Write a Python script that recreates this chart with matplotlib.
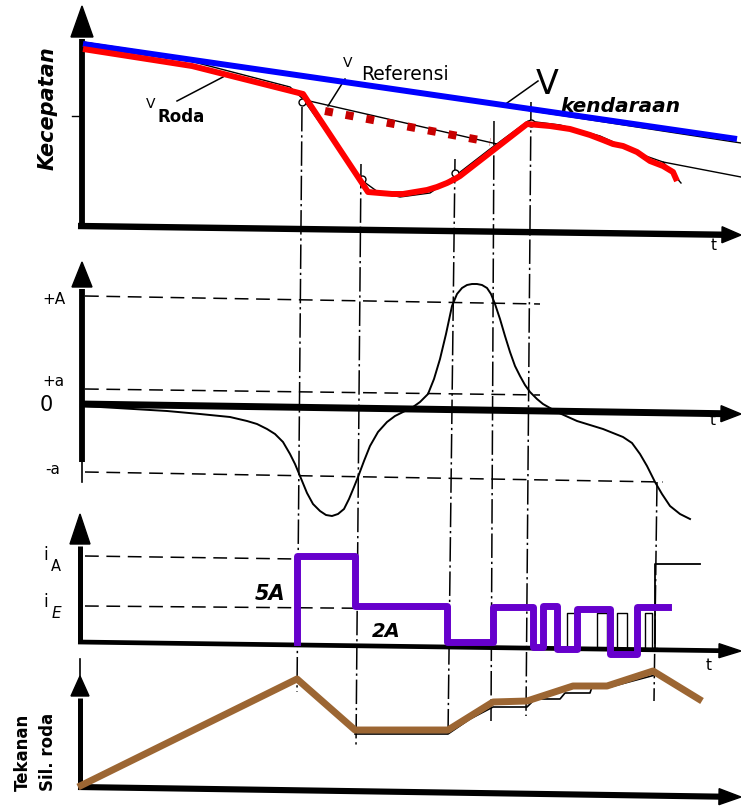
import numpy as np
import matplotlib
matplotlib.use('Agg')
import matplotlib.pyplot as plt
from matplotlib.patches import Polygon

# ---------------- data (t = time units, t=0 at the vertical axes) ----------------
# Panel 1 : Kecepatan (speed)
t_kendaraan = [1, 655]
v_kendaraan = [183, 88]
t_kend_ink = [1, 659]
v_kend_ink = [185, 84]
t_roda = [1, 110, 221, 286, 298, 310, 321, 333, 345, 355, 365, 373, 378,
          445, 468, 488, 508, 521, 531, 541, 555, 568, 581, 591, 595]
v_roda = [178, 161, 133, 35, 34, 33, 33, 35, 37, 40, 44, 48, 51,
          103, 101, 98, 92, 87, 83, 81, 75, 66, 61, 55, 46]
t_roda_ink = [1, 108, 208, 221, 253, 278, 296, 318, 348, 373, 408, 446, 478, 518, 558, 581, 599]
v_roda_ink = [185, 166, 140, 128, 83, 48, 35, 30, 34, 51, 78, 106, 102, 91, 73, 65, 44]
t_tail_ink = [581, 659]
v_tail_ink = [65, 50]
t_ref = [243, 408]
v_ref = [116, 85]
t_ref_ink = [223, 415]
v_ref_ink = [127, 83]
t_marks = [220, 280, 373, 449]
v_marks = [125, 48, 54, 104]

# Panel 2 : deceleration / acceleration of the wheel
t_acc = [1, 85, 118, 148, 165, 175, 185, 193, 201, 208, 213, 218, 225, 231, 238, 244, 250, 256, 262,
         267, 272, 276, 282, 288, 296, 305, 313, 321, 331, 338, 346, 352, 358, 364, 370, 375, 380,
         385, 390, 395, 400, 405, 409, 413, 418, 423, 428, 433, 438, 443, 448, 455, 461, 475, 495,
         521, 541, 550, 558, 565, 573, 580, 588, 598, 608]
a_acc = [-1, -6, -9, -12, -16, -19, -24, -29, -37, -49, -59, -71, -88, -99, -106, -110, -111, -109,
         -104, -94, -82, -72, -56, -41, -27, -17, -11, -7, -2, 3, 11, 26, 46, 71, 99, 111, 117, 120,
         121, 121, 120, 117, 111, 101, 86, 69, 53, 39, 29, 20, 13, 6, 1, -7, -16, -24, -32, -38,
         -49, -61, -77, -89, -101, -109, -114]

# Panel 3 : valve current
t_valve = [215, 215, 273, 365, 411, 451, 461, 475, 495, 528, 555, 586]
i_valve = [0, 86, 36, 0, 35, -5, 36, -7, 33, -12, 35, 35]
t_valve_ink = [481, 485, 495, 515, 525, 535, 545, 563, 570, 575]
i_valve_ink = [-6, 29, -6, 29, -6, 29, -6, 29, -6, -6]
t_step_ink = [573, 573, 618]
i_step_ink = [-9, 78, 78]

# Panel 4 : Tekanan silinder roda (brake pressure)
t_press = [-4, 215, 273, 366, 411, 445, 491, 525, 571, 620]
p_press = [0, 108, 57, 57, 85, 86, 101, 101, 116, 86]
t_press_ink = [273, 366, 388, 411, 445, 453, 478, 483, 508, 510, 528, 558, 573]
p_press_ink = [53, 53, 68, 80, 80, 88, 88, 94, 94, 100, 100, 108, 112]

# ---------------- figure ----------------
W, H = 741, 812
fig = plt.figure(figsize=(W / 100, H / 100), dpi=100)
fig.patch.set_facecolor('white')

# overlay in pixel coordinates for the hand-drawn frame (axes, guides, labels)
ov = fig.add_axes([0, 0, 1, 1])
ov.set_xlim(0, W)
ov.set_ylim(H, 0)
ov.axis('off')

K = 'black'

def head(ax, tip, base, hw):
    tx, ty = tip
    bx, by = base
    dx, dy = tx - bx, ty - by
    L = np.hypot(dx, dy)
    nx, ny = -dy / L, dx / L
    ax.add_patch(Polygon([[tx, ty], [bx + nx * hw, by + ny * hw], [bx - nx * hw, by - ny * hw]],
                         closed=True, color=K, zorder=5))

def yaxis(x, y0, ytip, ybase, lw=4.0, hw=11):
    ov.plot([x, x], [y0, ybase + 2], color=K, lw=lw, solid_capstyle='butt', zorder=5)
    head(ov, (x, ytip), (x, ybase), hw)

def xaxis(x0, y0, x1, y1, lw=4.0, hl=20, hw=8):
    frac = (x1 - x0 - hl) / (x1 - x0)
    xb = x0 + (x1 - x0) * frac
    yb = y0 + (y1 - y0) * frac
    ov.plot([x0, xb + 2], [y0, yb], color=K, lw=lw, solid_capstyle='butt', zorder=5)
    head(ov, (x1, y1), (xb, yb), hw)

# panel 1 frame
yaxis(82, 229, 7, 38, lw=4.2, hw=11)
xaxis(78, 227, 741, 236, lw=4.6, hl=19, hw=8)
ov.plot([72, 80], [117, 117], color=K, lw=1.0)
# panel 2 frame
yaxis(82, 463, 263, 288, lw=4.2, hw=10)
ov.plot([82, 82], [463, 483], color=K, lw=1.2)
xaxis(80, 405, 741, 415, lw=5.0, hl=20, hw=8)
# panel 3 frame
yaxis(80, 644, 515, 545, lw=3.6, hw=10)
xaxis(78, 643, 741, 652, lw=3.4, hl=22, hw=7)
# panel 4 frame
ov.plot([80, 80], [660, 680], color=K, lw=1.2)
yaxis(80, 789, 677, 697, lw=3.6, hw=9)
xaxis(78, 788, 741, 798, lw=4.4, hl=22, hw=8)

# dashed reference levels
dash = dict(color=K, lw=1.1, linestyle=(0, (9, 5)), zorder=2)
ov.plot([85, 540], [297, 305], **dash)     # +A
ov.plot([85, 540], [390, 396], **dash)     # +a
ov.plot([85, 663], [473, 483], **dash)     # -a
ov.plot([85, 297], [557, 560], **dash)     # iA
ov.plot([85, 450], [607, 610], **dash)     # iE

# dash-dot vertical guides
guides = [((302, 108), (297, 693)), ((361, 165), (356, 748)), ((455, 160), (448, 737)),
          ((494, 122), (491, 722)), ((531, 103), (526, 717)), ((657, 483), (654, 702))]
for (xa, ya), (xb, yb) in guides:
    ov.plot([xa, xb], [ya, yb], color=K, lw=1.1, linestyle=(0, (16, 2.5, 1.5, 2.5)), zorder=2)

# leader lines
ov.plot([177, 223], [102, 78], color=K, lw=1.1)
ov.plot([328, 345], [107, 80], color=K, lw=1.1)
ov.plot([507, 538], [104, 82], color=K, lw=1.1)

# labels
F = 'DejaVu Sans'
ov.text(48, 108, 'Kecepatan', rotation=90, ha='center', va='center', fontsize=15,
        fontweight='bold', fontstyle='italic', family=F)
ov.text(151, 104, 'V', ha='center', va='center', fontsize=10, family=F)
ov.text(181, 117, 'Roda', ha='center', va='center', fontsize=12, fontweight='bold', family=F)
ov.text(348, 63, 'V', ha='center', va='center', fontsize=10, family=F)
ov.text(405, 74, 'Referensi', ha='center', va='center', fontsize=13.5, family=F)
ov.text(547, 84, 'V', ha='center', va='center', fontsize=24, family=F)
ov.text(620, 107, 'kendaraan', ha='center', va='center', fontsize=14.5, fontweight='bold',
        fontstyle='italic', family=F)
for (x, y) in [(714, 246), (713, 421), (709, 666)]:
    ov.text(x, y, 't', ha='center', va='center', fontsize=11, family=F)
ov.text(54, 300, '+A', ha='center', va='center', fontsize=11, family=F)
ov.text(53, 382, '+a', ha='center', va='center', fontsize=11, family=F)
ov.text(46, 405, '0', ha='center', va='center', fontsize=15, family=F)
ov.text(53, 470, '-a', ha='center', va='center', fontsize=11, family=F)
ov.text(46, 555, 'i', ha='center', va='center', fontsize=12, family=F)
ov.text(56, 567, 'A', ha='center', va='center', fontsize=10.5, family=F)
ov.text(46, 602, 'i', ha='center', va='center', fontsize=12, family=F)
ov.text(56, 614, 'E', ha='center', va='center', fontsize=11, fontstyle='italic', family=F)
ov.text(270, 594, '5A', ha='center', va='center', fontsize=15, fontweight='bold',
        fontstyle='italic', family=F)
ov.text(386, 632, '2A', ha='center', va='center', fontsize=14, fontweight='bold',
        fontstyle='italic', family=F)
ov.text(23, 752, 'Tekanan', rotation=90, ha='center', va='center', fontsize=12,
        fontweight='bold', family=F)
ov.text(48, 752, 'Sil. roda', rotation=90, ha='center', va='center', fontsize=12,
        fontweight='bold', family=F)

# ---------------- data panels ----------------
def panel(top, bottom, base):
    ax = fig.add_axes([0, 1 - bottom / H, 1, (bottom - top) / H])
    ax.set_xlim(-82, W - 82)
    ax.set_ylim(base - bottom, base - top)
    ax.axis('off')
    ax.patch.set_alpha(0)
    return ax

ax1 = panel(0, 240, 228)
ax1.plot(t_kend_ink, v_kend_ink, color=K, lw=1.0, zorder=1)
ax1.plot(t_roda_ink, v_roda_ink, color=K, lw=1.0, zorder=1)
ax1.plot(t_tail_ink, v_tail_ink, color=K, lw=1.0, zorder=1)
ax1.plot(t_ref_ink, v_ref_ink, color=K, lw=1.0, zorder=1)
ax1.plot(t_marks, v_marks, 'o', ms=5, mfc='white', mec=K, mew=1.0, zorder=2)
ax1.plot(t_kendaraan, v_kendaraan, color='#0000ff', lw=4.3, solid_capstyle='butt', zorder=3)
ax1.plot(t_ref, v_ref, color='#c80000', lw=5.8, linestyle=(0, (1.0, 1.6)), zorder=3)
ax1.plot(t_roda, v_roda, color='#ff0000', lw=4.3, solid_capstyle='butt', solid_joinstyle='round', zorder=4)

ax2 = panel(255, 530, 406)
ax2.plot(t_acc, a_acc, color=K, lw=1.4, solid_joinstyle='round', zorder=3)

ax3 = panel(505, 662, 643)
ax3.step(t_valve_ink, i_valve_ink, where='post', color=K, lw=1.0, zorder=1)
ax3.plot(t_step_ink, i_step_ink, color=K, lw=1.3, zorder=1)
ax3.step(t_valve, i_valve, where='post', color='#6600cc', lw=5.0, zorder=3)

ax4 = panel(662, 812, 788)
ax4.plot(t_press_ink, p_press_ink, color=K, lw=1.2, zorder=1)
ax4.plot(t_press, p_press, color='#9c6633', lw=5.0, solid_capstyle='butt', zorder=3)

fig.savefig('out.png', dpi=100, facecolor='white')
